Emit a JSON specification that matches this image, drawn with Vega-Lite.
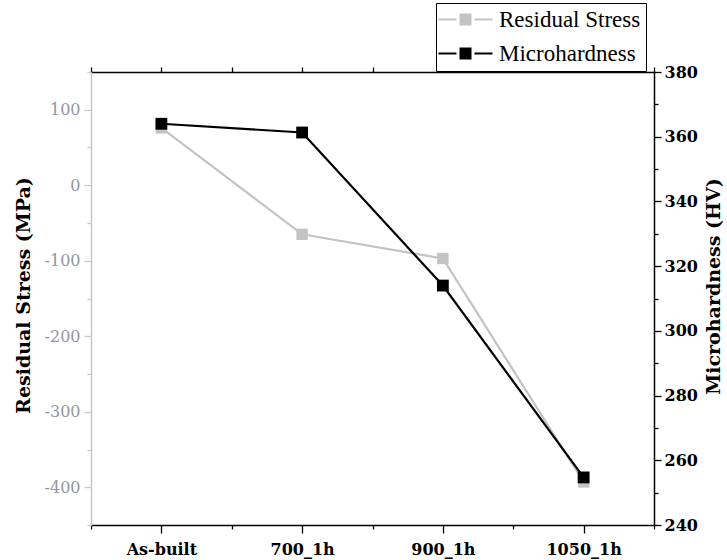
{
  "$schema": "https://vega.github.io/schema/vega-lite/v6.json",
  "width": 563,
  "height": 453,
  "autosize": "none",
  "padding": {"left": 91, "top": 72, "right": 73, "bottom": 35},
  "background": "white",
  "config": {
    "view": {"stroke": null},
    "axis": {"grid": false}
  },
  "data": {
    "values": [
      {"condition": "As-built", "stress": 76, "hardness": 364},
      {"condition": "700_1h", "stress": -65, "hardness": 361.3},
      {"condition": "900_1h", "stress": -97, "hardness": 314},
      {"condition": "1050_1h", "stress": -393, "hardness": 254.7}
    ]
  },
  "layer": [
    {
      "mark": {"type": "line", "strokeWidth": 2.2, "point": {"shape": "square", "size": 130, "filled": true, "opacity": 1}},
      "encoding": {
        "x": {
          "field": "condition",
          "type": "ordinal",
          "scale": {"type": "point", "padding": 0, "domain": ["~0", "As-built", "~1", "700_1h", "~2", "900_1h", "~3", "1050_1h", "~4"]},
          "axis": {
            "orient": "bottom",
            "title": null,
            "labelExpr": "indexof(datum.value, '~') === 0 ? '' : datum.label",
            "labelFont": "DejaVu Serif",
            "labelFontSize": 16,
            "labelFontWeight": "bold",
            "labelColor": "black",
            "labelAngle": 0,
            "labelPadding": 8,
            "labelBaseline": "top",
            "domainColor": "black",
            "domainWidth": 1.5,
            "tickColor": "black",
            "tickWidth": 1.3,
            "tickSize": {"condition": {"test": "indexof(datum.value, '~') === 0", "value": 4}, "value": 8}
          }
        },
        "y": {
          "field": "stress",
          "type": "quantitative",
          "scale": {"domain": [-450, 150], "nice": false, "zero": false},
          "axis": {
            "orient": "left",
            "title": "Residual Stress (MPa)",
            "titleFont": "DejaVu Serif",
            "titleFontSize": 19,
            "titleFontWeight": "bold",
            "titleColor": "black",
            "titleX": -58,
            "titleY": 223,
            "titleAngle": -90,
            "titleBaseline": "bottom",
            "titleAlign": "center",
            "values": [-450, -400, -350, -300, -250, -200, -150, -100, -50, 0, 50, 100, 150],
            "labelExpr": "datum.value % 100 === 0 ? toString(datum.value) : ''",
            "labelFont": "DejaVu Serif",
            "labelFontSize": 16,
            "labelColor": "#92969e",
            "labelPadding": 4,
            "domainColor": "#c8c8c8",
            "domainWidth": 1.5,
            "tickColor": "#c8c8c8",
            "tickWidth": 1.3,
            "tickSize": {"condition": {"test": "datum.value % 100 === 0", "value": 7}, "value": 4}
          }
        },
        "color": {
          "datum": "Residual Stress",
          "type": "nominal",
          "scale": {"domain": ["Residual Stress", "Microhardness"], "range": ["#c3c3c3", "#000000"]},
          "legend": {
            "title": null,
            "orient": "none",
            "legendX": 345,
            "legendY": -69,
            "direction": "vertical",
            "symbolType": "M-5.4,0H-1.8M1.8,0H5.4M-1.2,-1H1.2M-1.2,-0.6H1.2M-1.2,-0.2H1.2M-1.2,0.2H1.2M-1.2,0.6H1.2M-1.2,1H1.2",
            "symbolSize": 100,
            "symbolStrokeWidth": 2,
            "symbolOffset": 13,
            "symbolFillColor": "transparent",
            "symbolOpacity": 1,
            "labelFont": "Liberation Serif",
            "labelFontSize": 23,
            "labelColor": "black",
            "labelOffset": 22,
            "labelLimit": 300,
            "strokeColor": "black",
            "fillColor": "white",
            "padding": 5,
            "rowPadding": 10
          }
        },
        "order": {"value": null}
      }
    },
    {
      "mark": {"type": "line", "strokeWidth": 2.2, "point": {"shape": "square", "size": 140, "filled": true, "opacity": 1}},
      "encoding": {
        "x": {
          "field": "condition",
          "type": "ordinal",
          "scale": {"type": "point", "padding": 0, "domain": ["~0", "As-built", "~1", "700_1h", "~2", "900_1h", "~3", "1050_1h", "~4"]},
          "axis": {
            "orient": "top",
            "title": null,
            "labels": false,
            "domainColor": "black",
            "domainWidth": 1.5,
            "tickColor": "black",
            "tickWidth": 1.3,
            "tickSize": 5
          }
        },
        "y": {
          "field": "hardness",
          "type": "quantitative",
          "scale": {"domain": [240, 380], "nice": false, "zero": false},
          "axis": {
            "orient": "right",
            "title": "Microhardness (HV)",
            "titleFont": "DejaVu Serif",
            "titleFontSize": 19,
            "titleFontWeight": "bold",
            "titleColor": "black",
            "titleX": 50,
            "titleY": 214,
            "titleAngle": 270,
            "titleBaseline": "top",
            "titleAlign": "center",
            "values": [240, 250, 260, 270, 280, 290, 300, 310, 320, 330, 340, 350, 360, 370, 380],
            "labelExpr": "datum.value % 20 === 0 ? toString(datum.value) : ''",
            "labelFont": "DejaVu Serif",
            "labelFontSize": 16,
            "labelFontWeight": "bold",
            "labelColor": "black",
            "labelPadding": 3,
            "domainColor": "black",
            "domainWidth": 1.5,
            "tickColor": "black",
            "tickWidth": 1.3,
            "tickSize": {"condition": {"test": "datum.value % 20 === 0", "value": 7}, "value": 4}
          }
        },
        "color": {"datum": "Microhardness", "type": "nominal"},
        "order": {"value": null}
      }
    }
  ],
  "resolve": {"scale": {"y": "independent"}, "axis": {"x": "independent", "y": "independent"}}
}
